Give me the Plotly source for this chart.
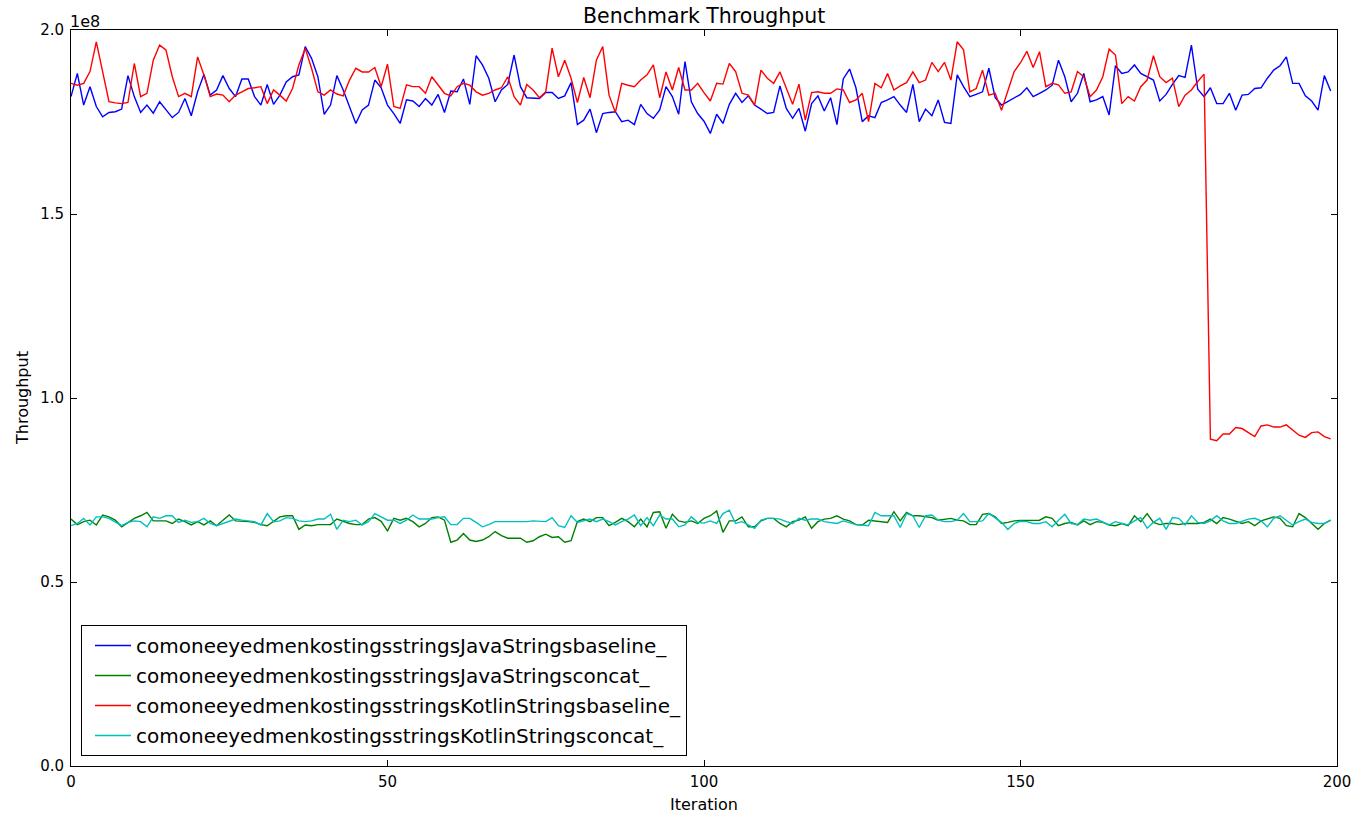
import plotly.graph_objects as go

iterations = list(range(200))

java_baseline = [
    1.819, 1.882, 1.796, 1.846, 1.792, 1.764, 1.776, 1.778, 1.785, 1.876,
    1.819, 1.776, 1.796, 1.774, 1.805, 1.783, 1.762, 1.776, 1.814, 1.767,
    1.832, 1.879, 1.823, 1.837, 1.876, 1.841, 1.819, 1.867, 1.867, 1.819,
    1.796, 1.852, 1.798, 1.823, 1.859, 1.873, 1.878, 1.955, 1.923, 1.873,
    1.771, 1.796, 1.876, 1.837, 1.792, 1.746, 1.783, 1.796, 1.864, 1.843,
    1.796, 1.773, 1.746, 1.810, 1.807, 1.792, 1.814, 1.796, 1.825, 1.776,
    1.834, 1.832, 1.867, 1.798, 1.930, 1.905, 1.869, 1.805, 1.837, 1.852,
    1.932, 1.846, 1.816, 1.814, 1.814, 1.830, 1.830, 1.814, 1.821, 1.857,
    1.743, 1.755, 1.785, 1.721, 1.773, 1.776, 1.778, 1.751, 1.755, 1.743,
    1.798, 1.773, 1.760, 1.783, 1.846, 1.819, 1.771, 1.914, 1.805, 1.773,
    1.752, 1.719, 1.771, 1.746, 1.798, 1.828, 1.803, 1.821, 1.796, 1.785,
    1.773, 1.776, 1.848, 1.787, 1.760, 1.787, 1.725, 1.800, 1.821, 1.780,
    1.816, 1.743, 1.867, 1.894, 1.843, 1.751, 1.767, 1.762, 1.803, 1.810,
    1.819, 1.796, 1.776, 1.852, 1.751, 1.785, 1.767, 1.810, 1.749, 1.746,
    1.878, 1.846, 1.819, 1.825, 1.832, 1.896, 1.816, 1.796, 1.805, 1.816,
    1.825, 1.843, 1.819, 1.828, 1.837, 1.850, 1.918, 1.873, 1.805, 1.828,
    1.882, 1.805, 1.810, 1.819, 1.769, 1.903, 1.882, 1.886, 1.905, 1.882,
    1.873, 1.864, 1.807, 1.825, 1.852, 1.876, 1.871, 1.959, 1.839, 1.819,
    1.843, 1.800, 1.800, 1.828, 1.782, 1.823, 1.825, 1.841, 1.843, 1.869,
    1.891, 1.903, 1.927, 1.855, 1.855, 1.821, 1.807, 1.782, 1.876, 1.834,
]

java_concat = [
    0.671, 0.656, 0.664, 0.668, 0.655, 0.682, 0.677, 0.668, 0.650, 0.662,
    0.673, 0.680, 0.689, 0.666, 0.666, 0.666, 0.659, 0.671, 0.664, 0.655,
    0.664, 0.655, 0.666, 0.653, 0.668, 0.682, 0.666, 0.666, 0.664, 0.662,
    0.656, 0.653, 0.666, 0.677, 0.680, 0.680, 0.643, 0.655, 0.653, 0.656,
    0.656, 0.656, 0.671, 0.664, 0.659, 0.656, 0.656, 0.671, 0.675, 0.665,
    0.639, 0.673, 0.668, 0.673, 0.664, 0.650, 0.659, 0.675, 0.677, 0.668,
    0.608, 0.614, 0.632, 0.614, 0.610, 0.614, 0.623, 0.637, 0.626, 0.619,
    0.619, 0.619, 0.608, 0.612, 0.623, 0.630, 0.621, 0.623, 0.608, 0.612,
    0.664, 0.671, 0.664, 0.675, 0.675, 0.653, 0.662, 0.673, 0.664, 0.650,
    0.671, 0.650, 0.689, 0.691, 0.646, 0.684, 0.666, 0.662, 0.666, 0.659,
    0.673, 0.680, 0.693, 0.635, 0.666, 0.666, 0.677, 0.650, 0.650, 0.666,
    0.673, 0.673, 0.659, 0.650, 0.664, 0.668, 0.677, 0.646, 0.664, 0.671,
    0.673, 0.680, 0.671, 0.666, 0.656, 0.655, 0.668, 0.666, 0.664, 0.662,
    0.691, 0.666, 0.689, 0.680, 0.680, 0.677, 0.675, 0.668, 0.671, 0.673,
    0.668, 0.666, 0.656, 0.656, 0.684, 0.686, 0.677, 0.659, 0.662, 0.666,
    0.667, 0.668, 0.668, 0.668, 0.677, 0.673, 0.653, 0.659, 0.662, 0.655,
    0.666, 0.656, 0.664, 0.662, 0.655, 0.653, 0.659, 0.653, 0.680, 0.664,
    0.686, 0.662, 0.656, 0.659, 0.659, 0.656, 0.659, 0.659, 0.659, 0.662,
    0.671, 0.659, 0.675, 0.671, 0.666, 0.659, 0.664, 0.653, 0.666, 0.671,
    0.677, 0.673, 0.653, 0.650, 0.686, 0.675, 0.659, 0.643, 0.659, 0.668,
]

kotlin_baseline = [
    1.855, 1.850, 1.855, 1.887, 1.968, 1.887, 1.805, 1.802, 1.800, 1.803,
    1.909, 1.819, 1.828, 1.918, 1.959, 1.946, 1.873, 1.819, 1.828, 1.819,
    1.927, 1.878, 1.819, 1.826, 1.823, 1.805, 1.823, 1.832, 1.841, 1.843,
    1.846, 1.800, 1.837, 1.823, 1.807, 1.841, 1.905, 1.950, 1.896, 1.832,
    1.823, 1.837, 1.826, 1.821, 1.864, 1.896, 1.886, 1.886, 1.898, 1.846,
    1.907, 1.792, 1.787, 1.851, 1.846, 1.846, 1.828, 1.873, 1.851, 1.828,
    1.821, 1.846, 1.855, 1.850, 1.832, 1.823, 1.828, 1.837, 1.843, 1.873,
    1.819, 1.796, 1.852, 1.837, 1.816, 1.832, 1.951, 1.873, 1.918, 1.869,
    1.803, 1.871, 1.816, 1.918, 1.955, 1.823, 1.776, 1.855, 1.850, 1.846,
    1.864, 1.878, 1.905, 1.816, 1.886, 1.837, 1.898, 1.837, 1.837, 1.855,
    1.830, 1.807, 1.855, 1.853, 1.909, 1.887, 1.828, 1.823, 1.796, 1.891,
    1.869, 1.855, 1.886, 1.841, 1.798, 1.853, 1.755, 1.830, 1.832, 1.828,
    1.828, 1.840, 1.837, 1.803, 1.810, 1.828, 1.751, 1.855, 1.843, 1.882,
    1.837, 1.848, 1.857, 1.886, 1.857, 1.864, 1.912, 1.887, 1.912, 1.864,
    1.968, 1.946, 1.832, 1.841, 1.891, 1.823, 1.828, 1.782, 1.837, 1.887,
    1.911, 1.942, 1.898, 1.941, 1.846, 1.855, 1.851, 1.828, 1.832, 1.887,
    1.873, 1.819, 1.837, 1.873, 1.948, 1.932, 1.800, 1.819, 1.807, 1.846,
    1.864, 1.930, 1.873, 1.857, 1.869, 1.792, 1.823, 1.837, 1.860, 1.880,
    0.888, 0.884, 0.902, 0.902, 0.920, 0.917, 0.906, 0.895, 0.924, 0.927,
    0.921, 0.921, 0.927, 0.913, 0.899, 0.893, 0.906, 0.908, 0.895, 0.889,
]

kotlin_concat = [
    0.653, 0.659, 0.673, 0.655, 0.677, 0.677, 0.673, 0.664, 0.653, 0.662,
    0.666, 0.664, 0.650, 0.677, 0.673, 0.680, 0.680, 0.662, 0.668, 0.662,
    0.664, 0.673, 0.659, 0.653, 0.659, 0.664, 0.671, 0.668, 0.666, 0.664,
    0.655, 0.686, 0.664, 0.666, 0.675, 0.673, 0.666, 0.664, 0.666, 0.671,
    0.671, 0.684, 0.643, 0.668, 0.664, 0.668, 0.655, 0.664, 0.686, 0.676,
    0.668, 0.668, 0.659, 0.668, 0.682, 0.671, 0.671, 0.671, 0.675, 0.677,
    0.656, 0.656, 0.673, 0.673, 0.662, 0.650, 0.656, 0.664, 0.664, 0.664,
    0.662, 0.664, 0.664, 0.666, 0.664, 0.664, 0.675, 0.653, 0.648, 0.680,
    0.662, 0.666, 0.671, 0.664, 0.671, 0.664, 0.655, 0.664, 0.671, 0.682,
    0.653, 0.675, 0.653, 0.682, 0.671, 0.671, 0.650, 0.655, 0.677, 0.662,
    0.660, 0.666, 0.659, 0.686, 0.695, 0.659, 0.664, 0.655, 0.646, 0.668,
    0.673, 0.673, 0.671, 0.664, 0.659, 0.673, 0.668, 0.671, 0.671, 0.664,
    0.662, 0.659, 0.666, 0.662, 0.656, 0.655, 0.653, 0.689, 0.680, 0.680,
    0.680, 0.648, 0.686, 0.680, 0.648, 0.680, 0.682, 0.668, 0.664, 0.664,
    0.668, 0.686, 0.664, 0.664, 0.666, 0.686, 0.675, 0.662, 0.643, 0.659,
    0.665, 0.664, 0.659, 0.659, 0.664, 0.650, 0.668, 0.684, 0.659, 0.656,
    0.671, 0.668, 0.671, 0.664, 0.655, 0.664, 0.659, 0.655, 0.666, 0.675,
    0.646, 0.662, 0.673, 0.643, 0.675, 0.673, 0.655, 0.680, 0.662, 0.659,
    0.666, 0.680, 0.666, 0.659, 0.659, 0.666, 0.671, 0.673, 0.666, 0.650,
    0.673, 0.680, 0.668, 0.655, 0.664, 0.671, 0.662, 0.659, 0.659, 0.668,
]

series_names = [
    "comoneeyedmenkostingsstringsJavaStringsbaseline_",
    "comoneeyedmenkostingsstringsJavaStringsconcat_",
    "comoneeyedmenkostingsstringsKotlinStringsbaseline_",
    "comoneeyedmenkostingsstringsKotlinStringsconcat_",
]
series_values = [java_baseline, java_concat, kotlin_baseline, kotlin_concat]
series_colors = ["#0000ff", "#008000", "#ff0000", "#00bfbf"]

scale = 1e8
y_tick_values = [0.0, 0.5, 1.0, 1.5, 2.0]
y_tick_labels = ["0.0", "0.5", "1.0", "1.5", "2.0"]
x_tick_values = [0, 50, 100, 150, 200]

FONT = "DejaVu Sans"
W, H = 1356, 814
L, R, T, B = 71, 19, 30, 48

fig = go.Figure()
for name, vals, col in zip(series_names, series_values, series_colors):
    fig.add_trace(go.Scatter(
        x=iterations, y=[v * scale for v in vals], mode="lines", name=name,
        legendgroup=name,
        line=dict(color=col, width=1.4),
    ))

fig.update_layout(
    width=W, height=H,
    margin=dict(l=L, r=R, t=T, b=B, autoexpand=False),
    paper_bgcolor="white", plot_bgcolor="white",
    font=dict(family=FONT, color="black", size=15),
    showlegend=True,
    legend=dict(x=10 / (W - L - R), y=10 / (H - T - B), xanchor="left", yanchor="bottom",
                bgcolor="white", bordercolor="black", borderwidth=1,
                font=dict(size=20, family=FONT, color="black"),
                itemwidth=36, indentation=8,
                traceorder="grouped", tracegroupgap=1),
)

fig.update_xaxes(
    range=[0, 200], tickvals=x_tick_values, ticks="inside", ticklen=6,
    tickcolor="black", showline=True, linecolor="black", linewidth=1,
    mirror="ticks", showgrid=False, zeroline=False, automargin=False,
    tickfont=dict(size=15, family=FONT), ticklabelstandoff=2,
)
fig.update_yaxes(
    range=[0, 2.0 * scale], tickvals=[t * scale for t in y_tick_values],
    ticktext=y_tick_labels, ticks="inside", ticklen=6,
    tickcolor="black", showline=True, linecolor="black", linewidth=1,
    mirror="ticks", showgrid=False, zeroline=False, automargin=False,
    tickfont=dict(size=15, family=FONT), ticklabelstandoff=3,
)

# Title, axis titles and offset text
fig.add_annotation(text="Benchmark Throughput", xref="paper", yref="paper",
                   x=0.5, y=1, yshift=14, xanchor="center", yanchor="middle",
                   showarrow=False, font=dict(size=20.5, family=FONT))
fig.add_annotation(text="Iteration", xref="paper", yref="paper",
                   x=0.5, y=0, yshift=-38, xanchor="center", yanchor="middle",
                   showarrow=False, font=dict(size=16, family=FONT))
fig.add_annotation(text="Throughput", xref="paper", yref="paper",
                   x=0, y=0.5, xshift=-49, xanchor="center", yanchor="middle",
                   textangle=-90, showarrow=False, font=dict(size=16, family=FONT))
fig.add_annotation(text="1e8", xref="paper", yref="paper", x=0, y=1,
                   xanchor="left", yanchor="bottom", showarrow=False,
                   font=dict(size=16, family=FONT), yshift=-3, xshift=-3)

# remove the browser's default 8px page margin so the figure fills the window
fig.write_html("out.html", config={"displayModeBar": False},
               post_script="document.body.style.margin='0';")
